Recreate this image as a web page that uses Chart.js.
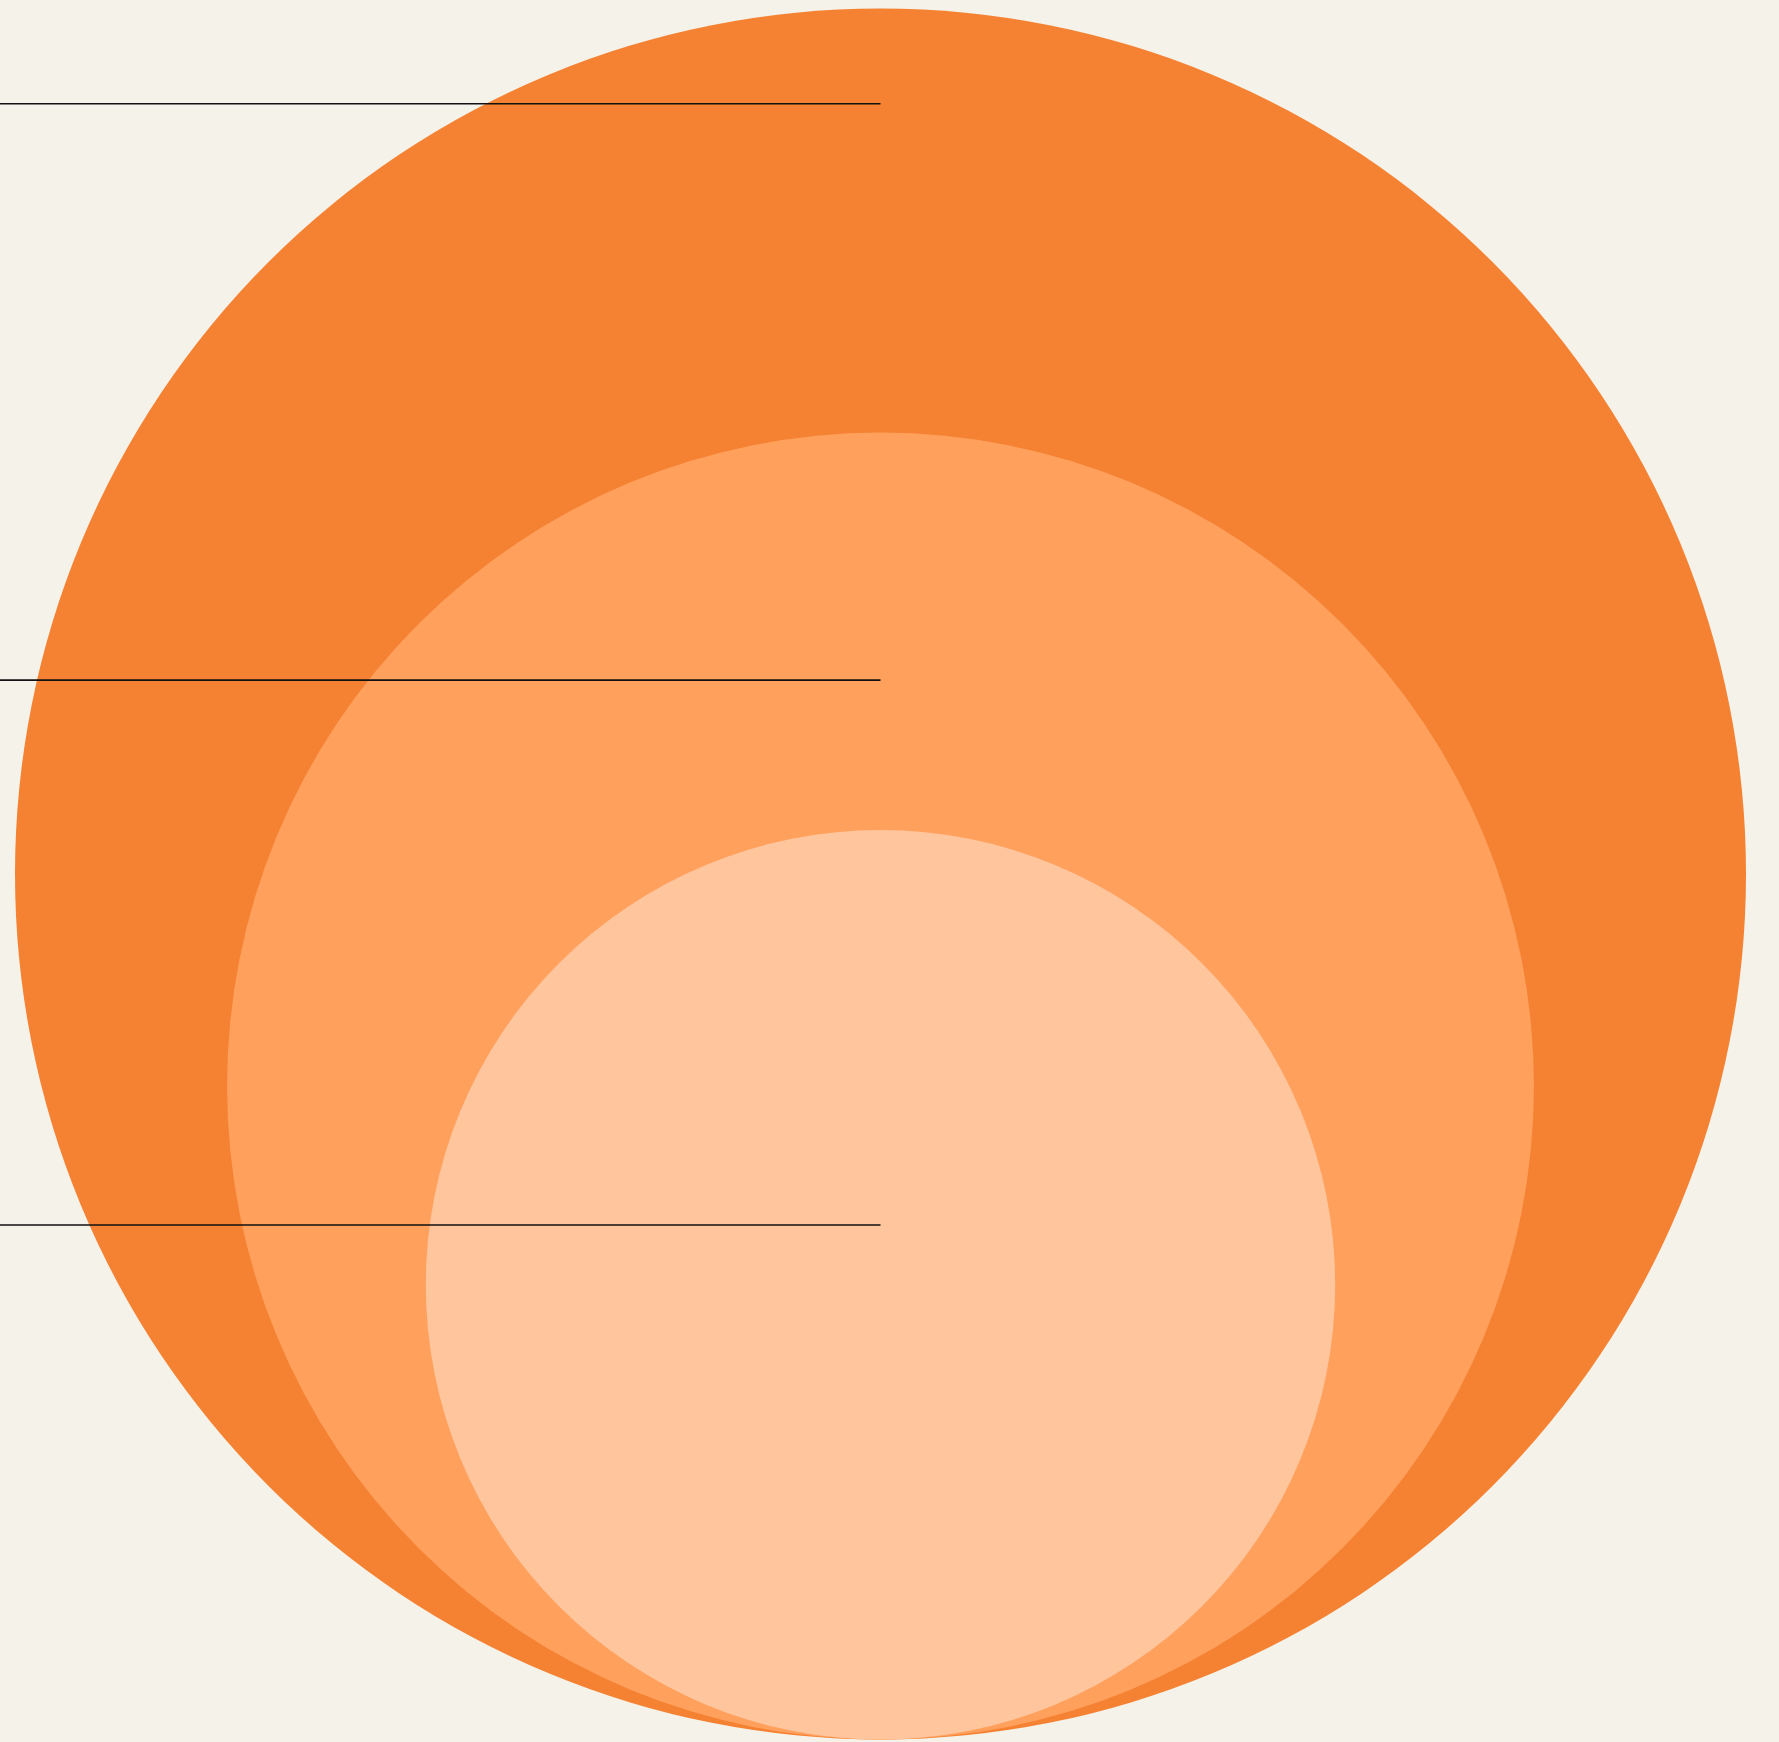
<!DOCTYPE html>
<html>
<head>
<meta charset="utf-8">
<script src="https://cdn.jsdelivr.net/npm/chart.js@4/dist/chart.umd.min.js"></script>
<style>
  html, body { margin:0; padding:0; background:#f5f2ea; }
  #wrap { width:1779px; height:1742px; }
</style>
</head>
<body>
<div id="wrap"><canvas id="c"></canvas></div>
<script>
// nested circles, all resting on the same baseline; area ~ value
const groups  = ["Outer", "Middle", "Inner"];
const values  = [100, 57.0, 27.6];
const colors  = ["#f58232", "#ffa05d", "#ffc59c"];

// leader lines (y in chart units, baseline = 0, outer top = 2)
const leaderY = [1.890, 1.224, 0.5945];

const vmax = Math.max(...values);
const radii = values.map(v => Math.sqrt(v / vmax));

const circles = radii.map(r => ({x: 0, y: r, r: r}));

const leaderSets = leaderY.map(y => ({
  type: "line",
  data: [{x: -1.05, y: y}, {x: 0, y: y}],
  borderColor: "#111111",
  borderWidth: 1.6,
  pointRadius: 0,
  fill: false,
  clip: false,
  order: 0
}));

function pxRadius(c){
  const raw = c.raw;
  if(!raw) return 0;
  const s = c.chart.scales.x;
  return s.getPixelForValue(raw.r) - s.getPixelForValue(0);
}

new Chart(document.getElementById("c"), {
  type: "scatter",
  data: {
    datasets: [
      {
        label: "circles",
        data: circles,
        backgroundColor: colors,
        borderWidth: 0,
        pointRadius: pxRadius,
        pointHoverRadius: pxRadius,
        clip: false,
        order: 1
      },
      ...leaderSets
    ]
  },
  options: {
    responsive: true,
    maintainAspectRatio: false,
    animation: false,
    events: [],
    layout: { padding: {left: 15, right: 33, top: 8.5, bottom: 2.5} },
    scales: {
      x: { type: "linear", min: -1, max: 1, display: false },
      y: { type: "linear", min: 0, max: 2, display: false }
    },
    plugins: {
      legend: { display: false },
      tooltip: { enabled: false }
    }
  }
});
</script>
</body>
</html>
